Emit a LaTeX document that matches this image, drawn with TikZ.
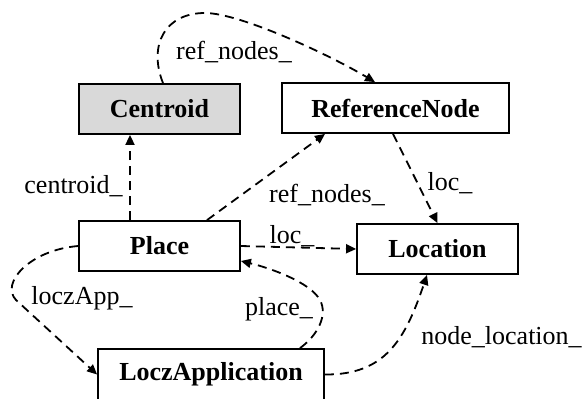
\documentclass[tikz,border=0pt]{standalone}
\usepackage{fontspec}
\setmainfont{Liberation Serif}
\usetikzlibrary{arrows.meta, positioning}

\begin{document}
\begin{tikzpicture}[x=0.5pt, y=-0.5pt, font=\fontsize{13}{15.6}\selectfont,
    cls/.style={draw, line width=0.9pt, minimum height=25pt, inner sep=0pt,
                font=\fontsize{13}{15.6}\selectfont\bfseries},
    rel/.style={dash pattern=on 4.5pt off 3pt, line width=0.9pt,
                -{Triangle[length=5pt, width=4.5pt]}},
    lbl/.style={inner sep=0pt}]
  \useasboundingbox (0,0) rectangle (584,398);
  % classi
  \node[cls, fill=gray!30, minimum width=80.5pt] (centroid) at (159.5,109) {Centroid};
  \node[cls, minimum width=113.5pt] (ref)   at (395.5,108) {ReferenceNode};
  \node[cls, minimum width=80.5pt]  (place) at (159.5,246) {Place};
  \node[cls, minimum width=80.5pt]  (loc)   at (437.5,249) {Location};
  \node[cls, minimum width=113pt, minimum height=25.5pt] (app) at (211,374.5) {LoczApplication};
  % associazioni
  \draw[rel] ([xshift=1.75pt]centroid.north) .. controls (148,45) and (165,13) .. (205,13)
             .. controls (240,13) and (330,55) .. ([xshift=-10.25pt]ref.north);
  \draw[rel] ([xshift=-14.75pt]place.north) -- ([xshift=-14.75pt]centroid.south);
  \draw[rel] ([xshift=23.75pt]place.north) -- ([xshift=-35.25pt]ref.south);
  \draw[rel] (place.east) -- (loc.west);
  \draw[rel] ([xshift=-1.25pt]ref.south) -- (loc.north);
  \draw[rel] (place.west) .. controls (30,250) and (0,283) .. (16,300) -- (app.west);
  \draw[rel] ([xshift=44.5pt]app.north) .. controls (318,335) and (328,315) .. (320,300)
             .. controls (310,282) and (270,268) .. ([yshift=-7.5pt]place.east);
  \draw[rel] (app.east) .. controls (385,375) and (405,340) .. ([xshift=-5.25pt]loc.south);
  % etichette
  \node[lbl] (l_ref1)  at (234,52)  {ref\_nodes\_};
  \node[lbl, anchor=east] (l_cen) at (123,186) {centroid\_};
  \node[lbl] (l_ref2)  at (327,195) {ref\_nodes\_};
  \node[lbl] (l_loc1)  at (292,236) {loc\_};
  \node[lbl] (l_loc2)  at (450,183) {loc\_};
  \node[lbl] (l_app)   at (82,298)  {loczApp\_};
  \node[lbl] (l_place) at (279,309) {place\_};
  \node[lbl, anchor=west] (l_node) at (421,337) {node\_location\_};
\end{tikzpicture}
\end{document}
